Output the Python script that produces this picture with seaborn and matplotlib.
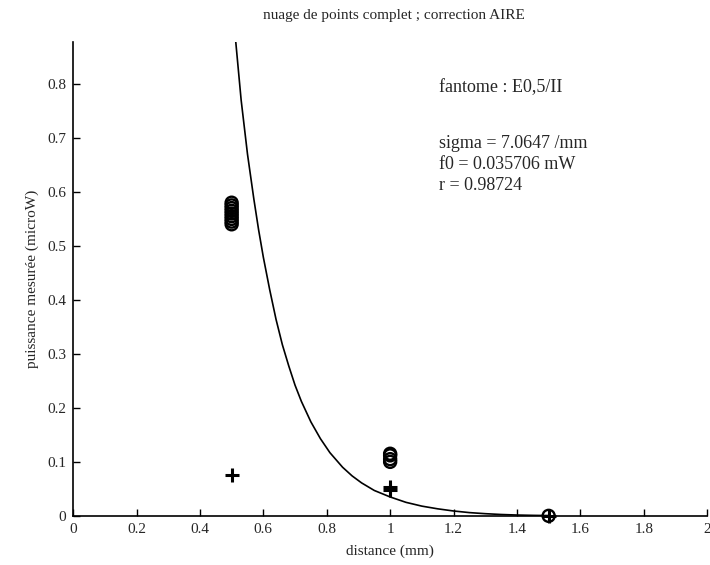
import numpy as np
import pandas as pd
import matplotlib
matplotlib.use("Agg")
import matplotlib.pyplot as plt
import seaborn as sns

# measured points (circles) and corrected points (plus)
circle_x = [0.5, 0.5, 0.5, 0.5, 0.5, 0.5, 0.5, 0.5, 0.5, 1.0, 1.0, 1.0, 1.0, 1.5]
circle_y = [0.540, 0.545, 0.550, 0.555, 0.560, 0.565, 0.570, 0.575, 0.580,
            0.100, 0.105, 0.112, 0.115, 0.0]
plus_x = [0.5, 1.0, 1.0, 1.5]
plus_y = [0.075, 0.048, 0.053, 0.0]

# fitted curve
curve_x = [0.513, 0.53, 0.55, 0.57, 0.585, 0.60, 0.62, 0.64, 0.66, 0.68, 0.70,
           0.72, 0.75, 0.78, 0.81, 0.85, 0.88, 0.91, 0.95, 1.0, 1.05, 1.1,
           1.15, 1.2, 1.25, 1.3, 1.35, 1.4, 1.45, 1.5]
curve_y = [0.878, 0.77, 0.67, 0.587, 0.53, 0.479, 0.419, 0.364, 0.317, 0.278,
           0.242, 0.212, 0.174, 0.143, 0.117, 0.090, 0.074, 0.061, 0.047, 0.035,
           0.025, 0.018, 0.013, 0.009, 0.006, 0.004, 0.0025, 0.0015, 0.0009, 0.0005]

x_ticks = [0, 0.2, 0.4, 0.6, 0.8, 1, 1.2, 1.4, 1.6, 1.8, 2]
x_labels = ["0", "0.2", "0.4", "0.6", "0.8", "1", "1.2", "1.4", "1.6", "1.8", "2"]
y_ticks = [0, 0.1, 0.2, 0.3, 0.4, 0.5, 0.6, 0.7, 0.8]
y_labels = ["0", "0.1", "0.2", "0.3", "0.4", "0.5", "0.6", "0.7", "0.8"]

info_lines = ["fantome : E0,5/II", "sigma = 7.0647 /mm", "f0 = 0.035706 mW", "r = 0.98724"]

sns.set_style("ticks")
plt.rcParams['font.family'] = ['Liberation Serif', 'DejaVu Serif']

fig = plt.figure(figsize=(7.1, 5.65), dpi=100)
ax = fig.add_axes([0.103, 0.087, 0.893, 0.839])

curve = pd.DataFrame({"x": curve_x, "y": curve_y})
sns.lineplot(data=curve, x="x", y="y", color="black", linewidth=1.2, ax=ax,
             sort=False, estimator=None)

circles = pd.DataFrame({"x": circle_x, "y": circle_y})
sns.scatterplot(data=circles, x="x", y="y", marker="o", s=75, facecolor="none",
                edgecolor="black", linewidth=1.7, ax=ax, clip_on=False)

plus = pd.DataFrame({"x": plus_x, "y": plus_y})
sns.scatterplot(data=plus, x="x", y="y", marker="+", s=110, color="black",
                linewidth=2.2, ax=ax, clip_on=False)

ax.set_xlim(0, 2)
ax.set_ylim(0, 0.878)
ax.set_xticks(x_ticks)
ax.set_xticklabels(x_labels)
ax.set_yticks(y_ticks)
ax.set_yticklabels(y_labels)
ax.tick_params(direction="in", labelsize=11, length=5, width=1, color="black", pad=5)
sns.despine(ax=ax)
for s in ["left", "bottom"]:
    ax.spines[s].set_linewidth(1.2)
    ax.spines[s].set_color("black")

ax.set_xlabel("distance (mm)", fontsize=11, labelpad=6)
ax.set_ylabel("puissance mesurée (microW)", fontsize=11, labelpad=6)
fig.text(0.555, 0.972, "nuage de points complet ; correction AIRE",
         ha="center", va="center", fontsize=11)

ax.text(1.154, 0.793, info_lines[0], fontsize=13, va="center")
for i, line in enumerate(info_lines[1:]):
    ax.text(1.154, 0.689 - i * 0.039, line, fontsize=13, va="center")

fig.savefig("out.png", dpi=100, facecolor="white")
